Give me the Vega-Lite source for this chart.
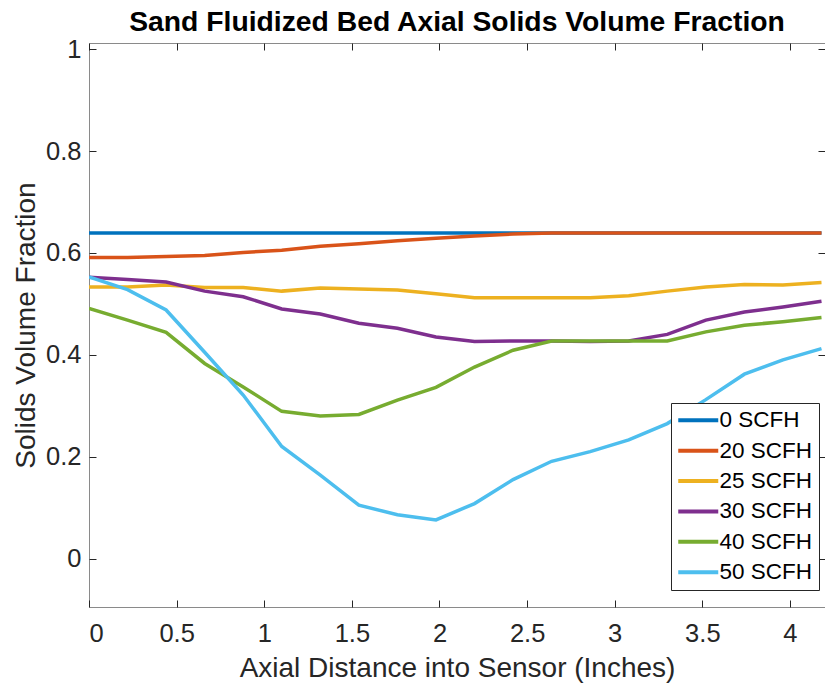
{
  "$schema": "https://vega.github.io/schema/vega-lite/v6.json",
  "width": 736,
  "height": 564,
  "autosize": {"type": "none"},
  "padding": {"left": 89, "top": 43, "right": 0, "bottom": 81},
  "background": "white",
  "title": {"text": "Sand Fluidized Bed Axial Solids Volume Fraction", "font": "Liberation Sans", "fontSize": 28.3, "fontWeight": "bold", "color": "#000000", "offset": 0},
  "config": {
    "font": "Liberation Sans",
    "view": {"stroke": "#8a8a8a", "strokeWidth": 1}
  },
  "data": {"values": [
    {"flow": "0 SCFH", "x": 0, "y": 0.639}, {"flow": "0 SCFH", "x": 0.22, "y": 0.639}, {"flow": "0 SCFH", "x": 0.44, "y": 0.639}, {"flow": "0 SCFH", "x": 0.66, "y": 0.639}, {"flow": "0 SCFH", "x": 0.88, "y": 0.639}, {"flow": "0 SCFH", "x": 1.1, "y": 0.639}, {"flow": "0 SCFH", "x": 1.32, "y": 0.639}, {"flow": "0 SCFH", "x": 1.54, "y": 0.639}, {"flow": "0 SCFH", "x": 1.76, "y": 0.639}, {"flow": "0 SCFH", "x": 1.98, "y": 0.639}, {"flow": "0 SCFH", "x": 2.2, "y": 0.639}, {"flow": "0 SCFH", "x": 2.42, "y": 0.639}, {"flow": "0 SCFH", "x": 2.64, "y": 0.639}, {"flow": "0 SCFH", "x": 2.86, "y": 0.639}, {"flow": "0 SCFH", "x": 3.08, "y": 0.639}, {"flow": "0 SCFH", "x": 3.3, "y": 0.639}, {"flow": "0 SCFH", "x": 3.52, "y": 0.639}, {"flow": "0 SCFH", "x": 3.74, "y": 0.639}, {"flow": "0 SCFH", "x": 3.96, "y": 0.639}, {"flow": "0 SCFH", "x": 4.18, "y": 0.639},
    {"flow": "20 SCFH", "x": 0, "y": 0.591}, {"flow": "20 SCFH", "x": 0.22, "y": 0.591}, {"flow": "20 SCFH", "x": 0.44, "y": 0.593}, {"flow": "20 SCFH", "x": 0.66, "y": 0.595}, {"flow": "20 SCFH", "x": 0.88, "y": 0.601}, {"flow": "20 SCFH", "x": 1.1, "y": 0.605}, {"flow": "20 SCFH", "x": 1.32, "y": 0.613}, {"flow": "20 SCFH", "x": 1.54, "y": 0.618}, {"flow": "20 SCFH", "x": 1.76, "y": 0.624}, {"flow": "20 SCFH", "x": 1.98, "y": 0.629}, {"flow": "20 SCFH", "x": 2.2, "y": 0.633}, {"flow": "20 SCFH", "x": 2.42, "y": 0.637}, {"flow": "20 SCFH", "x": 2.64, "y": 0.639}, {"flow": "20 SCFH", "x": 2.86, "y": 0.639}, {"flow": "20 SCFH", "x": 3.08, "y": 0.639}, {"flow": "20 SCFH", "x": 3.3, "y": 0.639}, {"flow": "20 SCFH", "x": 3.52, "y": 0.639}, {"flow": "20 SCFH", "x": 3.74, "y": 0.639}, {"flow": "20 SCFH", "x": 3.96, "y": 0.639}, {"flow": "20 SCFH", "x": 4.18, "y": 0.639},
    {"flow": "25 SCFH", "x": 0, "y": 0.533}, {"flow": "25 SCFH", "x": 0.22, "y": 0.533}, {"flow": "25 SCFH", "x": 0.44, "y": 0.537}, {"flow": "25 SCFH", "x": 0.66, "y": 0.532}, {"flow": "25 SCFH", "x": 0.88, "y": 0.532}, {"flow": "25 SCFH", "x": 1.1, "y": 0.525}, {"flow": "25 SCFH", "x": 1.32, "y": 0.531}, {"flow": "25 SCFH", "x": 1.54, "y": 0.529}, {"flow": "25 SCFH", "x": 1.76, "y": 0.527}, {"flow": "25 SCFH", "x": 1.98, "y": 0.52}, {"flow": "25 SCFH", "x": 2.2, "y": 0.512}, {"flow": "25 SCFH", "x": 2.42, "y": 0.512}, {"flow": "25 SCFH", "x": 2.64, "y": 0.512}, {"flow": "25 SCFH", "x": 2.86, "y": 0.512}, {"flow": "25 SCFH", "x": 3.08, "y": 0.516}, {"flow": "25 SCFH", "x": 3.3, "y": 0.525}, {"flow": "25 SCFH", "x": 3.52, "y": 0.533}, {"flow": "25 SCFH", "x": 3.74, "y": 0.538}, {"flow": "25 SCFH", "x": 3.96, "y": 0.537}, {"flow": "25 SCFH", "x": 4.18, "y": 0.542},
    {"flow": "30 SCFH", "x": 0, "y": 0.552}, {"flow": "30 SCFH", "x": 0.22, "y": 0.548}, {"flow": "30 SCFH", "x": 0.44, "y": 0.543}, {"flow": "30 SCFH", "x": 0.66, "y": 0.525}, {"flow": "30 SCFH", "x": 0.88, "y": 0.514}, {"flow": "30 SCFH", "x": 1.1, "y": 0.49}, {"flow": "30 SCFH", "x": 1.32, "y": 0.48}, {"flow": "30 SCFH", "x": 1.54, "y": 0.462}, {"flow": "30 SCFH", "x": 1.76, "y": 0.452}, {"flow": "30 SCFH", "x": 1.98, "y": 0.435}, {"flow": "30 SCFH", "x": 2.2, "y": 0.426}, {"flow": "30 SCFH", "x": 2.42, "y": 0.427}, {"flow": "30 SCFH", "x": 2.64, "y": 0.427}, {"flow": "30 SCFH", "x": 2.86, "y": 0.426}, {"flow": "30 SCFH", "x": 3.08, "y": 0.427}, {"flow": "30 SCFH", "x": 3.3, "y": 0.44}, {"flow": "30 SCFH", "x": 3.52, "y": 0.468}, {"flow": "30 SCFH", "x": 3.74, "y": 0.484}, {"flow": "30 SCFH", "x": 3.96, "y": 0.494}, {"flow": "30 SCFH", "x": 4.18, "y": 0.505},
    {"flow": "40 SCFH", "x": 0, "y": 0.491}, {"flow": "40 SCFH", "x": 0.22, "y": 0.468}, {"flow": "40 SCFH", "x": 0.44, "y": 0.444}, {"flow": "40 SCFH", "x": 0.66, "y": 0.383}, {"flow": "40 SCFH", "x": 0.88, "y": 0.337}, {"flow": "40 SCFH", "x": 1.1, "y": 0.289}, {"flow": "40 SCFH", "x": 1.32, "y": 0.28}, {"flow": "40 SCFH", "x": 1.54, "y": 0.283}, {"flow": "40 SCFH", "x": 1.76, "y": 0.311}, {"flow": "40 SCFH", "x": 1.98, "y": 0.336}, {"flow": "40 SCFH", "x": 2.2, "y": 0.376}, {"flow": "40 SCFH", "x": 2.42, "y": 0.409}, {"flow": "40 SCFH", "x": 2.64, "y": 0.427}, {"flow": "40 SCFH", "x": 2.86, "y": 0.427}, {"flow": "40 SCFH", "x": 3.08, "y": 0.427}, {"flow": "40 SCFH", "x": 3.3, "y": 0.427}, {"flow": "40 SCFH", "x": 3.52, "y": 0.445}, {"flow": "40 SCFH", "x": 3.74, "y": 0.458}, {"flow": "40 SCFH", "x": 3.96, "y": 0.465}, {"flow": "40 SCFH", "x": 4.18, "y": 0.473},
    {"flow": "50 SCFH", "x": 0, "y": 0.553}, {"flow": "50 SCFH", "x": 0.22, "y": 0.528}, {"flow": "50 SCFH", "x": 0.44, "y": 0.488}, {"flow": "50 SCFH", "x": 0.66, "y": 0.405}, {"flow": "50 SCFH", "x": 0.88, "y": 0.321}, {"flow": "50 SCFH", "x": 1.1, "y": 0.22}, {"flow": "50 SCFH", "x": 1.32, "y": 0.164}, {"flow": "50 SCFH", "x": 1.54, "y": 0.105}, {"flow": "50 SCFH", "x": 1.76, "y": 0.086}, {"flow": "50 SCFH", "x": 1.98, "y": 0.076}, {"flow": "50 SCFH", "x": 2.2, "y": 0.108}, {"flow": "50 SCFH", "x": 2.42, "y": 0.155}, {"flow": "50 SCFH", "x": 2.64, "y": 0.191}, {"flow": "50 SCFH", "x": 2.86, "y": 0.21}, {"flow": "50 SCFH", "x": 3.08, "y": 0.233}, {"flow": "50 SCFH", "x": 3.3, "y": 0.265}, {"flow": "50 SCFH", "x": 3.52, "y": 0.312}, {"flow": "50 SCFH", "x": 3.74, "y": 0.362}, {"flow": "50 SCFH", "x": 3.96, "y": 0.39}, {"flow": "50 SCFH", "x": 4.18, "y": 0.412}
  ]},
  "layer": [
    {
      "mark": {"type": "line", "strokeWidth": 3.5, "clip": true},
      "encoding": {
        "x": {"field": "x", "type": "quantitative",
          "scale": {"domain": [0, 4.2], "nice": false, "zero": false},
          "axis": {"title": "Axial Distance into Sensor (Inches)", "values": [0, 0.5, 1, 1.5, 2, 2.5, 3, 3.5, 4], "labelExpr": "format(datum.value, '~g')", "grid": false, "domain": false, "tickSize": -7, "tickColor": "#262626", "labelPadding": 21, "labelFontSize": 25.5, "labelColor": "#262626", "labelFont": "Liberation Sans", "titleFont": "Liberation Sans", "titleFontSize": 28, "titleFontWeight": "normal", "titleColor": "#262626", "titlePadding": 8}},
        "y": {"field": "y", "type": "quantitative",
          "scale": {"domain": [-0.095, 1.012], "nice": false, "zero": false},
          "axis": {"title": "Solids Volume Fraction", "values": [0, 0.2, 0.4, 0.6, 0.8, 1], "labelExpr": "format(datum.value, '~g')", "grid": false, "domain": false, "tickSize": -7, "tickColor": "#262626", "labelPadding": 15, "labelFontSize": 25.5, "labelColor": "#262626", "labelFont": "Liberation Sans", "titleFont": "Liberation Sans", "titleFontSize": 28, "titleFontWeight": "normal", "titleColor": "#262626", "titlePadding": 5}},
        "color": {"field": "flow", "type": "nominal",
          "scale": {"domain": ["0 SCFH", "20 SCFH", "25 SCFH", "30 SCFH", "40 SCFH", "50 SCFH"], "range": ["#0072BD", "#D95319", "#EDB120", "#7E2F8E", "#77AC30", "#4DBEEE"]},
          "legend": {"title": null, "orient": "none", "legendX": 582, "legendY": 360, "symbolType": "M-4,0H4", "symbolSize": 100, "symbolOffset": 10, "symbolStrokeWidth": 4, "labelFontSize": 22.5, "labelFont": "Liberation Sans", "labelColor": "#000000", "labelOffset": 10, "rowPadding": 7.4, "padding": 6, "strokeColor": "#262626", "fillColor": "#ffffff", "cornerRadius": 0}}
      }
    },
    {
      "mark": {"type": "line", "opacity": 0},
      "encoding": {
        "x": {"field": "x", "type": "quantitative",
          "axis": {"orient": "top", "title": null, "labels": false, "domain": false, "grid": false, "values": [0, 0.5, 1, 1.5, 2, 2.5, 3, 3.5, 4], "tickSize": -7, "tickColor": "#262626"}},
        "y": {"field": "y", "type": "quantitative",
          "axis": {"orient": "right", "title": null, "labels": false, "domain": false, "grid": false, "values": [0, 0.2, 0.4, 0.6, 0.8, 1], "tickSize": -7, "tickColor": "#262626"}}
      }
    }
  ],
  "resolve": {"axis": {"x": "independent", "y": "independent"}}
}
